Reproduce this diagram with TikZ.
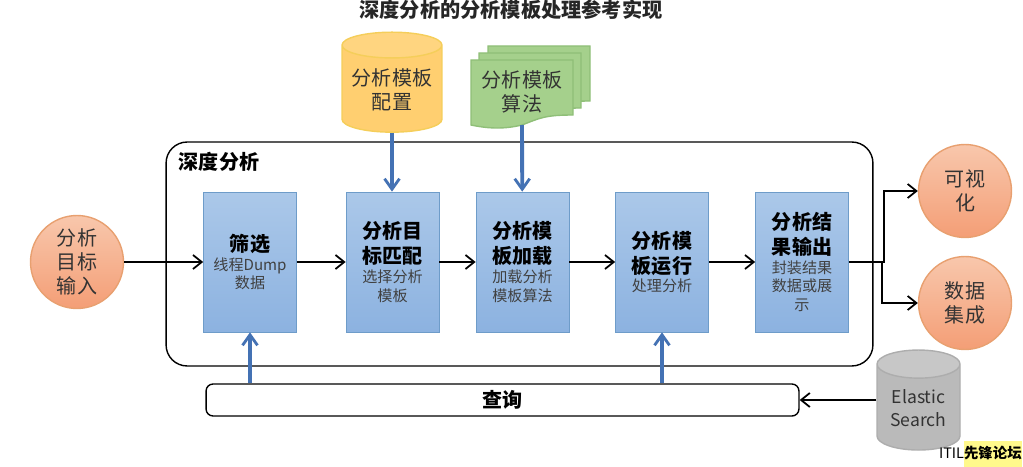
\documentclass[tikz,border=0pt]{standalone}
\usepackage{fontspec}
\setmainfont{Noto Sans CJK SC}
\usetikzlibrary{arrows.meta, shapes.geometric}

\definecolor{blockTop}{HTML}{ABC8E9}
\definecolor{blockBot}{HTML}{8CB2E0}
\definecolor{blockLine}{HTML}{6E9CC9}
\definecolor{circleTop}{HTML}{F8C7AC}
\definecolor{circleBot}{HTML}{F49E76}
\definecolor{circleLine}{HTML}{E8A070}
\definecolor{flowBlue}{HTML}{4472B4}
\definecolor{docFill}{HTML}{A5D08C}
\definecolor{docLine}{HTML}{8FBF78}
\definecolor{configEnd}{HTML}{FFD580}
\definecolor{configBody}{HTML}{FFCF70}
\definecolor{configLine}{HTML}{F5CE5A}

\newcommand{\blockhead}[1]{{\fontsize{11.4pt}{14.2pt}\selectfont\bfseries\color{black}#1\par}}

\tikzset{
    block/.style={draw=blockLine, top color=blockTop, bottom color=blockBot,
        minimum width=1.86cm, minimum height=2.8cm, align=center, inner sep=1pt,
        text width=1.7cm, font=\fontsize{8.6pt}{10.6pt}\selectfont, text=black!75},
    endpoint/.style={circle, draw=circleLine, thick, top color=circleTop, bottom color=circleBot,
        minimum size=1.86cm, inner sep=0pt, align=center,
        font=\fontsize{11.4pt}{13.6pt}\selectfont, text=black!80},
    store/.style={cylinder, shape border rotate=90, draw, thick, cylinder uses custom fill},
    storetext/.style={align=center, font=\fontsize{11.4pt}{13.6pt}\selectfont, text=black!80},
    flow/.style={->, line width=1pt, black},
    feed/.style={-{Straight Barb[length=6pt, width=8.5pt, line width=1.6pt]}, flowBlue, line width=2.2pt},
}

\begin{document}
\begin{tikzpicture}[>={Straight Barb[length=5pt, width=8pt]}, x=0.02cm, y=-0.02cm]

    \useasboundingbox (0,0) rectangle (1023,466);

    % Title
    \node[font=\fontsize{11.5pt}{14pt}\selectfont\bfseries, text=black!85] (title) at (511,9.5) {深度分析的分析模板处理参考实现};

    % 1. Outer frame
    \node[draw=black, thick, rounded corners=12pt, minimum width=14.14cm, minimum height=4.48cm] (frame) at (519.5,254) {};
    \node[font=\fontsize{11.4pt}{13pt}\selectfont\bfseries] (framelabel) at (219,162) {深度分析};

    % 2. Processing blocks
    \node[block] (filter) at (250,262) {\blockhead{筛选}线程Dump\\数据};
    \node[block] (match) at (392.5,262) {\blockhead{分析目\\标匹配}选择分析\\模板};
    \node[block] (load) at (522.5,262) {\blockhead{分析模\\板加载}加载分析\\模板算法};
    \node[block] (run) at (662,262) {\blockhead{分析模\\板运行}处理分析};
    \node[block] (output) at (802,262) {\blockhead{分析结\\果输出}封装结果\\数据或展\\示};

    % 3. Input and output circles
    \node[endpoint] (input) at (77,262) {分析\\目标\\输入};
    \node[endpoint] (visual) at (965,191) {可视\\化};
    \node[endpoint] (integrate) at (965,303) {数据\\集成};

    % 4. Template config and elastic stores
    \node[store, draw=configLine, cylinder end fill=configEnd, cylinder body fill=configBody,
        minimum width=2cm, minimum height=2cm, aspect=2.2] (config) at (392,92) {};
    \node[storetext] (configlabel) at (392,90) {分析模板\\配置};
    \node[store, draw=black!32, cylinder end fill=black!22, cylinder body fill=black!27,
        minimum width=1.66cm, minimum height=2cm, aspect=2.4] (elastic) at (918.5,411) {};
    \node[storetext, font=\fontsize{10pt}{13pt}\selectfont] (elasticlabel) at (918.5,408.5) {Elastic\\Search};

    % 5. Stacked template sheets
    \foreach \dx/\dy in {17/-14, 8/-7, 0/0} {
        \filldraw[shift={(\dx,\dy)}, fill=docFill, draw=docLine, thick] (471,60) -- (573,60) -- (573,115)
            .. controls (545,115) and (540,118) .. (522,125)
            .. controls (505,129) and (490,129) .. (471,125) -- cycle;
    }
    \node[storetext] (algo) at (522,92) {分析模板\\算法};
    \coordinate (algoend) at (522,125);

    % 6. Query bar
    \node[draw=black, thick, rounded corners=4pt, fill=white, minimum width=11.86cm, minimum height=0.64cm,
        font=\fontsize{11.4pt}{13.6pt}\selectfont\bfseries] (query) at (502.5,400) {查询};

    % 7. Main flow
    \draw[flow] (input) -- (filter);
    \draw[flow] (filter) -- (match);
    \draw[flow] (match) -- (load);
    \draw[flow] (load) -- (run);
    \draw[flow] (run) -- (output);
    \draw[flow] (output.east) -- (884,262) |- (visual);
    \draw[flow] (output.east) -- (882,262) |- (integrate);
    \draw[flow] (query.east -| elastic.west) -- (query.east);

    % 8. Feeding arrows
    \draw[feed] (config.south) -- (config.south |- match.north);
    \draw[feed] (algoend) -- (load);
    \draw[feed] (query.north -| filter) -- (filter);
    \draw[feed] (query.north -| run) -- (run);

    % Watermark
    \node[font=\fontsize{8.2pt}{9pt}\selectfont, anchor=east, inner sep=0pt] (mark) at (1022,455) {ITIL\colorbox{yellow!45}{\kern-3pt\strut\bfseries 先锋论坛\kern-3pt}};

\end{tikzpicture}
\end{document}
